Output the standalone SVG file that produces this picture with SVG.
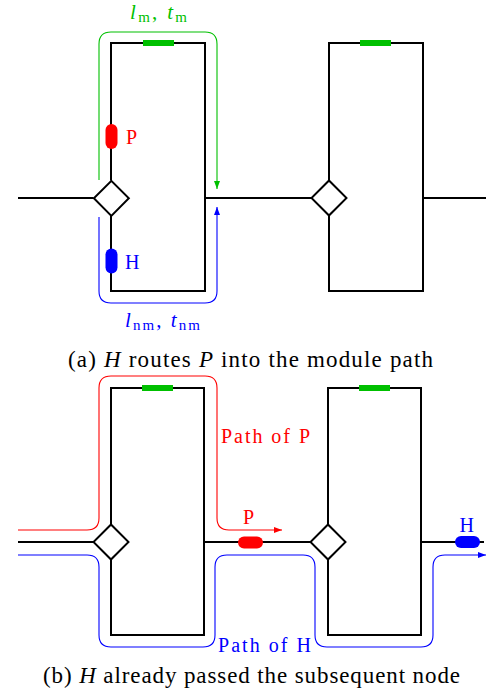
<svg xmlns="http://www.w3.org/2000/svg" width="488" height="698" viewBox="0 0 488 698">
<style>
.blk{fill:none;stroke:#000;stroke-width:2}
.dia{fill:#fff;stroke:#000;stroke-width:2}
.gbar{fill:#00c000}
text{font-family:"Liberation Serif","Times New Roman",serif}
.gr{fill:#00c000}.rd{fill:#ff0000}.bl{fill:#0000ff}
.pg{fill:none;stroke:#00c000;stroke-width:1.1}
.pr{fill:none;stroke:#ff0000;stroke-width:1.1}
.pb{fill:none;stroke:#0000ff;stroke-width:1.1}
</style>
<defs>
<marker id="ag" viewBox="0 0 8 6" refX="8" refY="3" markerWidth="8" markerHeight="6" orient="auto" markerUnits="userSpaceOnUse"><path d="M0,0 L8,3 L0,6 z" fill="#00c000"/></marker>
<marker id="ab" viewBox="0 0 8 6" refX="8" refY="3" markerWidth="8" markerHeight="6" orient="auto" markerUnits="userSpaceOnUse"><path d="M0,0 L8,3 L0,6 z" fill="#0000ff"/></marker>
<marker id="ar" viewBox="0 0 8 6" refX="8" refY="3" markerWidth="8" markerHeight="6" orient="auto" markerUnits="userSpaceOnUse"><path d="M0,0 L8,3 L0,6 z" fill="#ff0000"/></marker>
</defs>

<!-- (a) -->
<g id="a-structure">
<path class="blk" d="M111,180.5 V43 H205 V291 H111 V215.5"/>
<path class="blk" d="M329,180.5 V43 H423 V291 H329 V215.5"/>
</g>
<g id="connectors">
<path class="blk" d="M18,198 H93.5"/>
<path class="blk" d="M205,198 H311.5"/>
<path class="blk" d="M423,198 H486"/>
<path class="blk" d="M18,542 H93.5"/>
<path class="blk" d="M204,542 H310.5"/>
<path class="blk" d="M421,542 H484"/>
<path class="pg" d="M99,180 V44 Q99,32 111,32 H205 Q217,32 217,44 V189" marker-end="url(#ag)"/>
<path class="pb" d="M99,217 V291 Q99,303 111,303 H205 Q217,303 217,291 V207" marker-end="url(#ab)"/>
<path class="pr" d="M18,530 H87 Q99,530 99,518 V388 Q99,376 111,376 H205 Q217,376 217,388 V518 Q217,530 229,530 H282" marker-end="url(#ar)"/>
<path class="pb" d="M18,555 H87 Q99,555 99,567 V635 Q99,647 111,647 H203 Q215,647 215,635 V567 Q215,555 227,555 H303 Q315,555 315,567 V635 Q315,647 327,647 H421 Q433,647 433,635 V567 Q433,555 445,555 H486" marker-end="url(#ab)"/>
</g>
<g id="a-node1"><rect class="dia" x="99" y="186" width="24.7" height="24.7" transform="rotate(45 111.35 198.35)"/></g>
<g id="a-node2"><rect class="dia" x="316.65" y="185.65" width="24.7" height="24.7" transform="rotate(45 329 198)"/></g>
<g id="a-bars">
<rect class="gbar" x="143" y="40" width="31" height="6"/>
<rect class="gbar" x="360" y="40" width="31" height="6"/>
</g>
<g id="a-P"><rect class="rd" x="105.5" y="124" width="12" height="25" rx="6"/><text class="rd" x="126" y="144" font-size="20">P</text></g>
<g id="a-H"><rect class="bl" x="105.5" y="248.5" width="12" height="25" rx="6"/><text class="bl" x="125" y="269" font-size="20">H</text></g>
<text class="gr" x="130" y="19" font-size="21" textLength="57"><tspan font-style="italic">l</tspan><tspan font-size="15" dy="3">m</tspan><tspan dy="-3">, </tspan><tspan font-style="italic">t</tspan><tspan font-size="15" dy="3">m</tspan></text>
<text class="bl" x="125" y="327" font-size="21" textLength="75"><tspan font-style="italic">l</tspan><tspan font-size="15" dy="3">nm</tspan><tspan dy="-3">, </tspan><tspan font-style="italic">t</tspan><tspan font-size="15" dy="3">nm</tspan></text>
<text x="68" y="367" font-size="23" textLength="365" lengthAdjust="spacing">(a) <tspan font-style="italic">H</tspan> routes <tspan font-style="italic">P</tspan> into the module path</text>

<!-- (b) -->
<g id="b-structure">
<path class="blk" d="M111,524.5 V388 H204 V635 H111 V559.5"/>
<path class="blk" d="M328,524.5 V388 H421 V635 H328 V559.5"/>
</g>
<g id="b-node1"><rect class="dia" x="98.65" y="529.65" width="24.7" height="24.7" transform="rotate(45 111 542)"/></g>
<g id="b-node2"><rect class="dia" x="315.65" y="529.65" width="24.7" height="24.7" transform="rotate(45 328 542)"/></g>
<g id="b-bars">
<rect class="gbar" x="142" y="385" width="31" height="6"/>
<rect class="gbar" x="359" y="385" width="31" height="6"/>
</g>
<g id="b-P"><rect class="rd" x="238" y="536.5" width="25" height="12" rx="6"/><text class="rd" x="243" y="524" font-size="20">P</text></g>
<g id="b-H"><rect class="bl" x="455" y="536" width="25" height="12" rx="6"/><text class="bl" x="459.5" y="532" font-size="20">H</text></g>
<text class="rd" x="221" y="443" font-size="20" textLength="89">Path of P</text>
<text class="bl" x="218" y="652" font-size="20" textLength="93">Path of H</text>
<text x="43" y="683" font-size="23" textLength="417" lengthAdjust="spacing">(b) <tspan font-style="italic">H</tspan> already passed the subsequent node</text>
</svg>
